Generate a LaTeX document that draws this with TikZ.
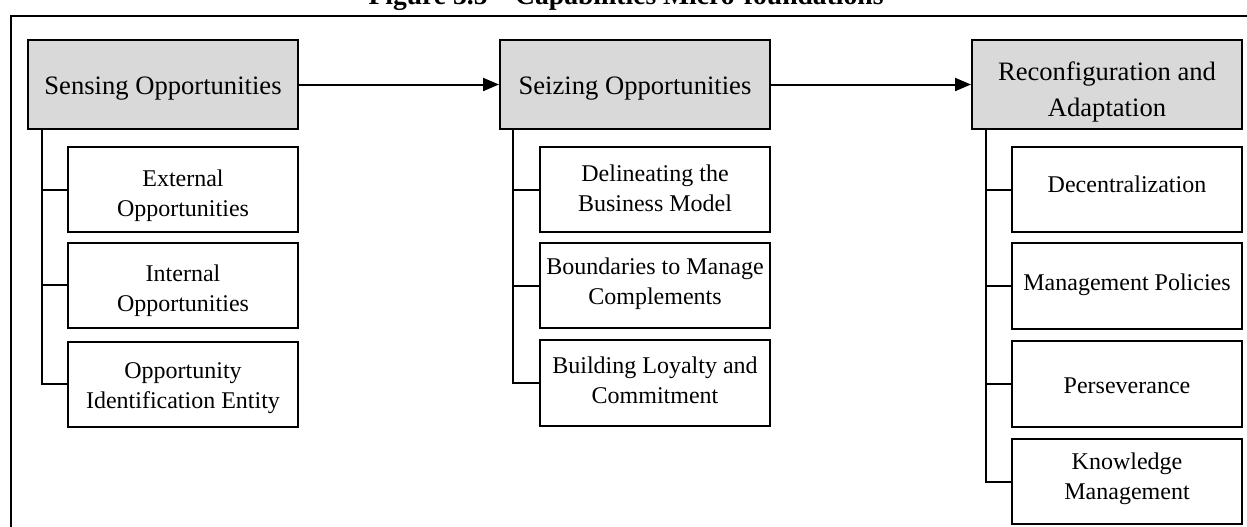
\documentclass[tikz,border=0pt]{standalone}
\usepackage{fontspec}
\setmainfont{Liberation Serif}
\usetikzlibrary{arrows.meta}
\definecolor{headgray}{RGB}{217,217,217}
\begin{document}
\begin{tikzpicture}[x=0.5pt,y=-0.5pt,
  every node/.style={align=center, inner sep=0pt},
  % text height/depth pin the baseline of the last text line inside each box
  headbox/.style={draw=black, fill=headgray, line width=1pt, minimum width=135pt, minimum height=44.5pt,
    font=\fontsize{13.3}{18}\selectfont, text depth=3pt, text height=13.2pt},
  head2/.style={text depth=3pt, text height=#1},
  subbox/.style={draw=black, fill=white, line width=1pt, minimum width=115pt, minimum height=42.75pt,
    font=\fontsize{12}{15}\selectfont, text depth=2.6pt, text height=5.8pt},
  sub1/.style={text depth=2.6pt, text height=#1},
  sub2/.style={text depth=2.6pt, text height=#1},
  link/.style={draw=black, line width=1pt},
  flow/.style={draw=black, line width=1pt, -{Triangle[length=8pt, width=6.5pt]}},
  frame/.style={draw=black, line width=1.2pt}
]
\clip (0,0) rectangle (1247,526);

% caption and surrounding frame
\node[anchor=base, font=\fontsize{13.8}{16}\selectfont\bfseries] (title) at (626,4) {Figure 3.5 – Capabilities Micro-foundations};
\coordinate (framebl) at (11,600);
\coordinate (frametr) at (1300,16);
\draw[frame] (framebl) |- (frametr);

% main stages
\node[headbox] (sense) at (163,84.5) {Sensing Opportunities};
\node[headbox] (seize) at (635,84.5) {Seizing Opportunities};
\node[headbox, head2=35.2pt] (reconf) at (1107,84.5) {Reconfiguration and\\Adaptation};

% sensing
\node[subbox, sub2=29.6pt] (ext) at (183,189.5) {External\\Opportunities};
\node[subbox, sub2=28.6pt] (int) at (183,285.3) {Internal\\Opportunities};
\node[subbox, sub2=26.6pt] (oid) at (183,384.3) {Opportunity\\Identification Entity};

% seizing
\node[subbox, sub2=24.6pt] (bm) at (655,189.5) {Delineating the\\Business Model};
\node[subbox, sub2=21.6pt] (bnd) at (655,285.5) {Boundaries to Manage\\Complements};
\node[subbox, sub2=22.6pt] (loy) at (655,383) {Building Loyalty and\\Commitment};

% reconfiguration
\node[subbox, sub1=5.4pt] (dec) at (1127,189.5) {Decentralization};
\node[subbox, sub1=6.6pt] (pol) at (1127,286) {Management Policies};
\node[subbox, sub1=12.1pt] (per) at (1127,383.8) {Perseverance};
\node[subbox, sub2=20.6pt] (km) at (1127,481.5) {Knowledge\\Management};

% stage flow
\draw[flow] (sense.east) -- (seize.west);
\draw[flow] (seize.east) -- (reconf.west);

% tree links
\foreach \c in {ext,int,oid} \draw[link] ([xshift=7.5pt]sense.south west) |- (\c.west);
\foreach \c in {bm,bnd,loy} \draw[link] ([xshift=7pt]seize.south west) |- (\c.west);
\foreach \c in {dec,pol,per,km} \draw[link] ([xshift=7.5pt]reconf.south west) |- (\c.west);
\end{tikzpicture}
\end{document}
